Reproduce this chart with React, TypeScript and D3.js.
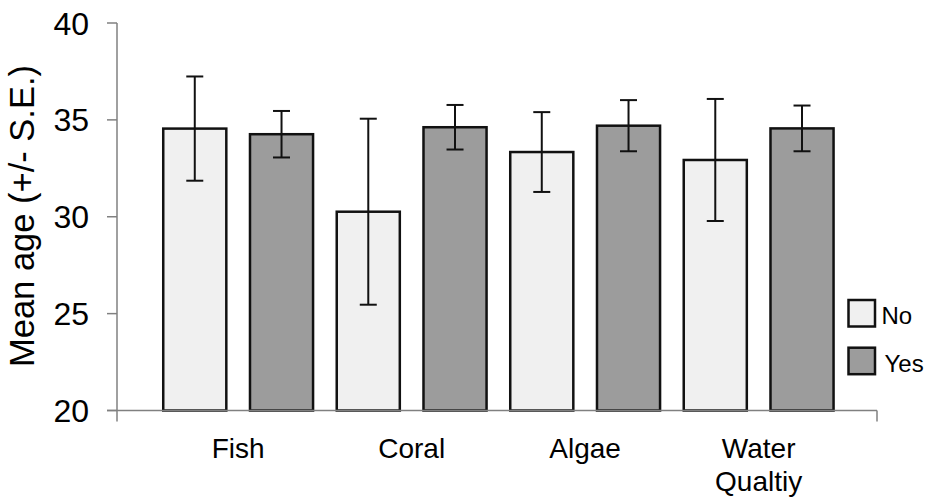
import React from 'react'
import * as d3 from 'd3'

const categories = ['Fish', 'Coral', 'Algae', 'Water Qualtiy']
const groups = ['No', 'Yes']
const noMeans = [34.55, 30.26, 33.34, 32.93]
const noSE = [2.69, 4.8, 2.06, 3.15]
const yesMeans = [34.26, 34.62, 34.7, 34.56]
const yesSE = [1.2, 1.15, 1.32, 1.18]
const yTicks = [20, 25, 30, 35, 40]

const colors: Record<string, string> = { No: '#f0f0f0', Yes: '#9c9c9c' }
const font = '"Liberation Sans", Arial, sans-serif'

export default function App() {
	const width = 928
	const height = 500
	const axisLeft = 117, axisRight = 877
	const top = 23, bottom = 410.5

	const y = d3.scaleLinear().domain([20, 40]).range([bottom, top])
	const x = d3.scaleBand().domain(categories).range([151.4, 845.4]).padding(0)
	const xi = d3.scaleBand().domain(groups).range([0, x.bandwidth()])
		.paddingInner(0.273).paddingOuter(0.1365)

	const data = categories.flatMap((c, i) => [
		{ cat: c, group: 'No', mean: noMeans[i], se: noSE[i] },
		{ cat: c, group: 'Yes', mean: yesMeans[i], se: yesSE[i] },
	])

	return (
		<svg width={width} height={height} style={{ position: 'absolute', left: 0, top: 0, background: '#fff' }}>
			{/* bars */}
			{data.map((d, i) => {
				const bx = (x(d.cat) as number) + (xi(d.group) as number)
				return (
					<rect key={'b' + i} x={bx} y={y(d.mean)} width={xi.bandwidth()} height={y(20) - y(d.mean)}
						fill={colors[d.group]} stroke="#111" strokeWidth={2.5} />
				)
			})}

			{/* axes */}
			<g stroke="#808080" strokeWidth={1.5} fill="none">
				<line x1={axisLeft} x2={axisLeft} y1={top} y2={bottom + 11} />
				<line x1={axisLeft - 10} x2={axisRight} y1={bottom} y2={bottom} />
				<line x1={axisRight} x2={axisRight} y1={bottom} y2={bottom + 11} />
				{yTicks.map(t => (
					<line key={t} x1={axisLeft - 10} x2={axisLeft} y1={y(t)} y2={y(t)} />
				))}
			</g>

			{/* error bars */}
			{data.map((d, i) => {
				const cx = (x(d.cat) as number) + (xi(d.group) as number) + xi.bandwidth() / 2
				return (
					<g key={'e' + i} stroke="#111" strokeWidth={2}>
						<line x1={cx} x2={cx} y1={y(d.mean + d.se)} y2={y(d.mean - d.se)} />
						<line x1={cx - 8.5} x2={cx + 8.5} y1={y(d.mean + d.se)} y2={y(d.mean + d.se)} />
						<line x1={cx - 8.5} x2={cx + 8.5} y1={y(d.mean - d.se)} y2={y(d.mean - d.se)} />
					</g>
				)
			})}

			{/* tick labels */}
			{yTicks.map(t => (
				<text key={'t' + t} x={89} y={y(t)} dy="0.36em" textAnchor="end"
					fontFamily={font} fontSize={32} fill="#000">{t}</text>
			))}

			{categories.map(c => {
				const words = c.split(' ')
				const cx = (x(c) as number) + x.bandwidth() / 2
				return (
					<text key={c} x={cx} y={458} textAnchor="middle" fontFamily={font} fontSize={28} fill="#000">
						{words.map((w, j) => (
							<tspan key={j} x={cx} dy={j === 0 ? 0 : 33}>{w}</tspan>
						))}
					</text>
				)
			})}

			<text transform={`translate(34,216) rotate(-90)`} textAnchor="middle"
				fontFamily={font} fontSize={34.5} fill="#000">Mean age (+/- S.E.)</text>

			{/* legend */}
			{groups.map((g, i) => (
				<g key={g} transform={`translate(848.5,${300 + i * 47.7})`}>
					<rect x={0} y={0} width={26.5} height={26.5} fill={colors[g]} stroke="#111" strokeWidth={2.5} />
					<text x={g === 'No' ? 33 : 36} y={24} fontFamily={font} fontSize={24} fill="#000">{g}</text>
				</g>
			))}
		</svg>
	)
}
